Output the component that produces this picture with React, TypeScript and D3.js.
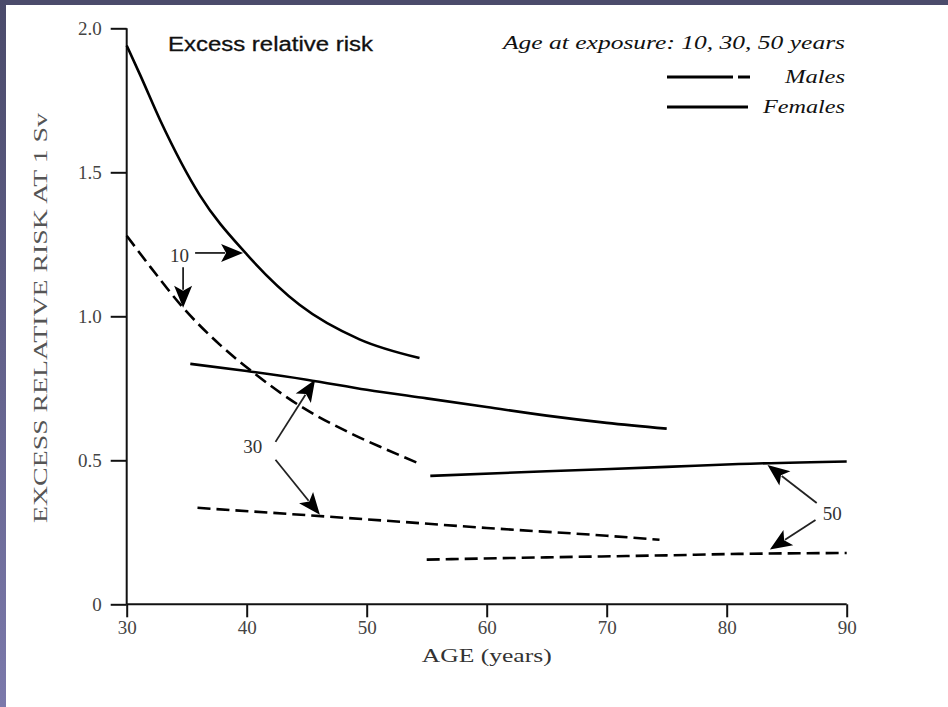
import React, { useEffect, useRef } from "react";
import * as d3 from "d3";

const W = 948;
const H = 707;

const xTicks = [30, 40, 50, 60, 70, 80, 90];
const yTicks = [0, 0.5, 1.0, 1.5, 2.0];
const yTickLabels = ["0", "0.5", "1.0", "1.5", "2.0"];

const female10Age = [30, 31.1, 32.8, 36.1, 39.9, 44.4, 49.4, 54.4];
const female10Err = [1.94, 1.84, 1.68, 1.42, 1.22, 1.04, 0.92, 0.855];

const male10Age = [30, 32, 34.7, 37.8, 40.7, 44.4, 48.6, 51.5, 54.3];
const male10Err = [1.28, 1.17, 1.03, 0.9, 0.8, 0.69, 0.595, 0.54, 0.49];

const female30Age = [35.3, 40, 45, 50, 55, 60, 65, 70, 75];
const female30Err = [0.835, 0.81, 0.78, 0.745, 0.715, 0.685, 0.655, 0.63, 0.61];

const male30Age = [35.9, 42, 50, 60, 70, 74.4];
const male30Err = [0.335, 0.318, 0.295, 0.265, 0.238, 0.224];

const female50Age = [55.3, 65, 75, 81, 90];
const female50Err = [0.446, 0.462, 0.477, 0.487, 0.496];

const male50Age = [55, 65, 75, 81, 90];
const male50Err = [0.155, 0.163, 0.17, 0.175, 0.178];

// annotation labels: [text, age, err]
const annoLabels: [string, number, number][] = [
  ["10", 34.4, 1.213],
  ["30", 40.5, 0.547],
  ["50", 88.8, 0.317],
];
// arrows: [fromAge, fromErr, toAge, toErr]
const annoArrows: [number, number, number, number][] = [
  [35.7, 1.22, 39.7, 1.22],
  [34.7, 1.17, 34.7, 1.03],
  [42.4, 0.564, 45.7, 0.78],
  [42.4, 0.502, 46.1, 0.311],
  [87.5, 0.352, 83.4, 0.484],
  [87.4, 0.293, 83.6, 0.19],
];

const title = "Excess relative risk";
const header = "Age at exposure: 10, 30, 50 years";
const legendLabels = ["Males", "Females"];
const xLabel = "AGE (years)";
const yLabel = "EXCESS RELATIVE RISK AT 1 Sv";

const SERIF = "'Liberation Serif', 'Times New Roman', serif";
const SANS = "'Liberation Sans', Arial, sans-serif";

export default function App() {
  const ref = useRef<SVGSVGElement>(null);

  useEffect(() => {
    const svg = d3.select(ref.current);
    svg.selectAll("*").remove();

    // background frame
    const defs = svg.append("defs");
    const grad = defs
      .append("linearGradient")
      .attr("id", "leftgrad")
      .attr("x1", 0)
      .attr("y1", 0)
      .attr("x2", 0)
      .attr("y2", 1);
    grad.append("stop").attr("offset", "0%").attr("stop-color", "#4a4a6a");
    grad.append("stop").attr("offset", "100%").attr("stop-color", "#7b79ab");
    svg.append("rect").attr("width", W).attr("height", H).attr("fill", "#ffffff");
    svg.append("rect").attr("x", 0).attr("y", 0).attr("width", W).attr("height", 5).attr("fill", "#4b4b6b");
    svg.append("rect").attr("x", 0).attr("y", 0).attr("width", 6).attr("height", H).attr("fill", "url(#leftgrad)");

    const x = d3.scaleLinear().domain([30, 90]).range([126.7, 846.7]);
    const y = d3.scaleLinear().domain([0, 2]).range([604.3, 28.3]);

    // axes
    const yAxis = d3
      .axisLeft(y)
      .tickValues(yTicks)
      .tickSize(16)
      .tickPadding(9)
      .tickFormat((d, i) => yTickLabels[i]);
    const gy = svg.append("g").attr("transform", `translate(${x(30)},0)`).call(yAxis);
    gy.select(".domain").remove();
    gy.selectAll("line").attr("stroke", "#111").attr("stroke-width", 2);
    gy.selectAll("text")
      .attr("font-family", SERIF)
      .attr("font-size", 19)
      .attr("fill", "#444");

    const xAxis = d3.axisBottom(x).tickValues(xTicks).tickSize(13).tickPadding(3);
    const gx = svg.append("g").attr("transform", `translate(0,${y(0)})`).call(xAxis);
    gx.select(".domain").remove();
    gx.selectAll("line").attr("stroke", "#111").attr("stroke-width", 2);
    gx.selectAll("text")
      .attr("font-family", SERIF)
      .attr("font-size", 19)
      .attr("fill", "#444");

    svg
      .append("line")
      .attr("x1", x(30))
      .attr("x2", x(30))
      .attr("y1", y(2))
      .attr("y2", y(0))
      .attr("stroke", "#111")
      .attr("stroke-width", 2);
    svg
      .append("line")
      .attr("x1", x(30))
      .attr("x2", x(90))
      .attr("y1", y(0))
      .attr("y2", y(0))
      .attr("stroke", "#111")
      .attr("stroke-width", 2);

    // axis labels
    svg
      .append("text")
      .attr("x", (x(30) + x(90)) / 2)
      .attr("y", 662)
      .attr("text-anchor", "middle")
      .attr("font-family", SERIF)
      .attr("font-size", 18)
      .attr("fill", "#333")
      .attr("textLength", 130)
      .attr("lengthAdjust", "spacingAndGlyphs")
      .text(xLabel);
    svg
      .append("text")
      .attr("transform", `translate(47,${318}) rotate(-90)`)
      .attr("text-anchor", "middle")
      .attr("font-family", SERIF)
      .attr("font-size", 19)
      .attr("fill", "#555")
      .attr("textLength", 410)
      .attr("lengthAdjust", "spacingAndGlyphs")
      .text(yLabel);

    // title & header
    svg
      .append("text")
      .attr("x", 168)
      .attr("y", 51)
      .attr("font-family", SANS)
      .attr("font-size", 20)
      .attr("fill", "#111")
      .attr("stroke", "#111")
      .attr("stroke-width", 0.3)
      .attr("textLength", 205)
      .attr("lengthAdjust", "spacingAndGlyphs")
      .text(title);
    svg
      .append("text")
      .attr("x", 503)
      .attr("y", 49)
      .attr("font-family", SERIF)
      .attr("font-style", "italic")
      .attr("font-size", 18)
      .attr("fill", "#111")
      .attr("textLength", 342)
      .attr("lengthAdjust", "spacingAndGlyphs")
      .text(header);

    // legend
    const legY = [77, 107];
    svg.append("line").attr("x1", 667).attr("x2", 733).attr("y1", legY[0]).attr("y2", legY[0]).attr("stroke", "#000").attr("stroke-width", 3);
    svg.append("line").attr("x1", 738).attr("x2", 750).attr("y1", legY[0]).attr("y2", legY[0]).attr("stroke", "#000").attr("stroke-width", 3);
    svg.append("line").attr("x1", 667).attr("x2", 748).attr("y1", legY[1]).attr("y2", legY[1]).attr("stroke", "#000").attr("stroke-width", 3);
    legendLabels.forEach((t, i) => {
      svg
        .append("text")
        .attr("x", 845)
        .attr("y", legY[i] + 6)
        .attr("text-anchor", "end")
        .attr("font-family", SERIF)
        .attr("font-style", "italic")
        .attr("font-size", 18)
        .attr("fill", "#111")
        .attr("textLength", i === 0 ? 60 : 82)
        .attr("lengthAdjust", "spacingAndGlyphs")
        .text(t);
    });

    // curves
    const line = d3
      .line<[number, number]>()
      .x((d) => x(d[0]))
      .y((d) => y(d[1]))
      .curve(d3.curveMonotoneX);
    const series: { age: number[]; err: number[]; dashed: boolean }[] = [
      { age: female10Age, err: female10Err, dashed: false },
      { age: male10Age, err: male10Err, dashed: true },
      { age: female30Age, err: female30Err, dashed: false },
      { age: male30Age, err: male30Err, dashed: true },
      { age: female50Age, err: female50Err, dashed: false },
      { age: male50Age, err: male50Err, dashed: true },
    ];
    series.forEach((s) => {
      const pts = s.age.map((a, i) => [a, s.err[i]] as [number, number]);
      svg
        .append("path")
        .attr("d", line(pts))
        .attr("fill", "none")
        .attr("stroke", "#000")
        .attr("stroke-width", 2.6)
        .attr("stroke-dasharray", s.dashed ? "13,6" : null);
    });

    // annotations
    annoArrows.forEach(([a0, e0, a1, e1]) => {
      const x0 = x(a0), y0 = y(e0), x1 = x(a1), y1 = y(e1);
      const dx = x1 - x0, dy = y1 - y0;
      const len = Math.hypot(dx, dy);
      const ux = dx / len, uy = dy / len;
      const L = 22, hw = 9;
      const bx = x1 - ux * L, by = y1 - uy * L;
      svg
        .append("line")
        .attr("x1", x0)
        .attr("y1", y0)
        .attr("x2", bx + ux * 4)
        .attr("y2", by + uy * 4)
        .attr("stroke", "#222")
        .attr("stroke-width", 1.8);
      svg
        .append("polygon")
        .attr(
          "points",
          `${x1},${y1} ${bx - uy * hw},${by + ux * hw} ${bx + ux * 5},${by + uy * 5} ${bx + uy * hw},${by - ux * hw}`
        )
        .attr("fill", "#000");
    });
    annoLabels.forEach(([t, a, e]) => {
      svg
        .append("text")
        .attr("x", x(a))
        .attr("y", y(e))
        .attr("dy", "0.35em")
        .attr("text-anchor", "middle")
        .attr("font-family", SERIF)
        .attr("font-size", 19)
        .attr("fill", "#333")
        .text(t);
    });
  }, []);

  return (
    <svg
      ref={ref}
      width={W}
      height={H}
      style={{ position: "absolute", left: 0, top: 0, display: "block" }}
    />
  );
}
